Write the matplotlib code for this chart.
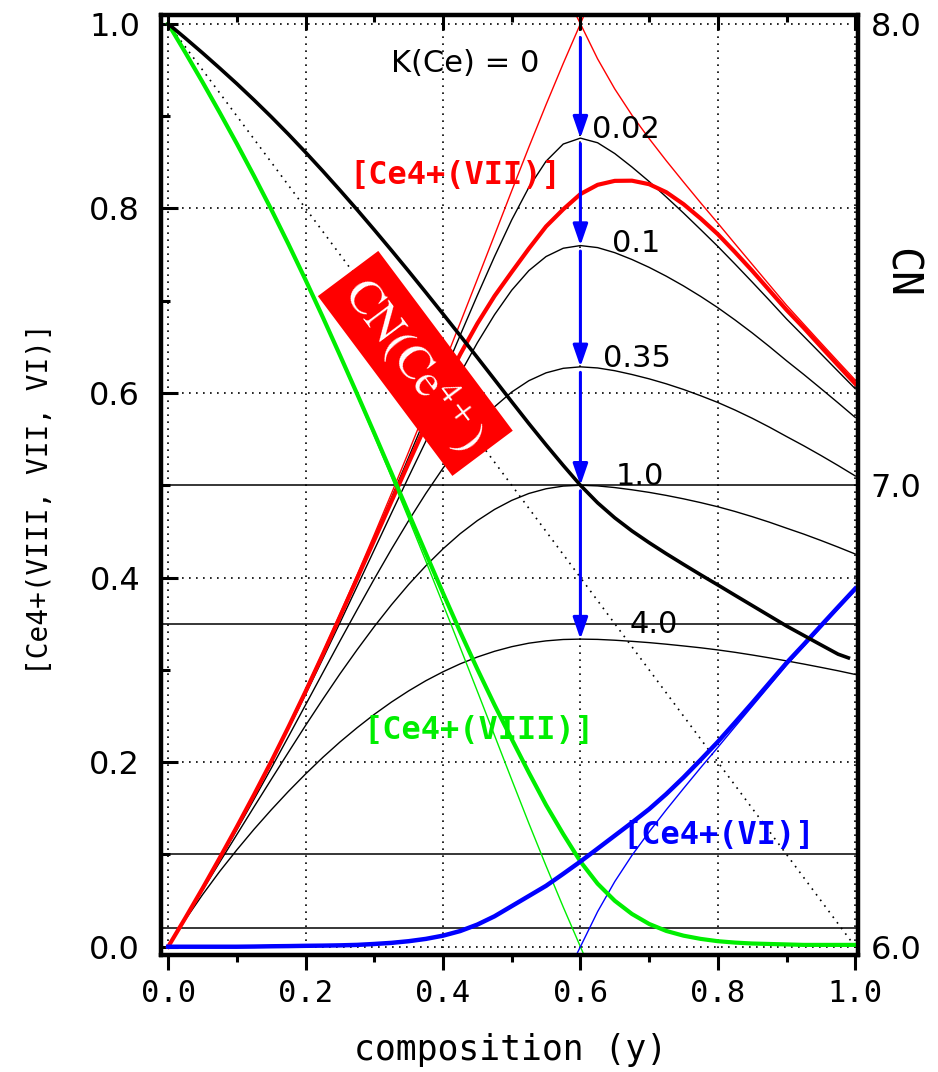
import matplotlib
matplotlib.use("Agg")
import matplotlib.pyplot as plt
from matplotlib.ticker import MultipleLocator, FixedLocator

plt.rcParams['mathtext.fontset'] = 'stix'

# ---------------- data ----------------
x_grid = [0.0, 0.025, 0.05, 0.075, 0.1, 0.125, 0.15, 0.175, 0.2, 0.225, 0.25, 0.275, 0.3,
          0.325, 0.35, 0.375, 0.4, 0.425, 0.45, 0.475, 0.5, 0.525, 0.55, 0.575, 0.6, 0.625,
          0.65, 0.675, 0.7, 0.725, 0.75, 0.775, 0.8, 0.825, 0.85, 0.875, 0.9, 0.925, 0.95,
          0.975, 1.0]

# [Ce4+(VII)] for K(Ce) = 0.02, 0.1, 0.35, 1.0, 4.0 (units of 1e-4)
k_labels = ['0.02', '0.1', '0.35', '1.0', '4.0']
vii_k002 = [0, 312, 632, 961, 1298, 1649, 2011, 2387, 2775, 3175, 3586, 4003, 4431, 4864,
            5302, 5744, 6186, 6625, 7058, 7478, 7875, 8228, 8511, 8697, 8761, 8711, 8594,
            8448, 8291, 8123, 7950, 7770, 7588, 7397, 7202, 7004, 6802, 6614, 6425, 6235, 6046]
vii_k01 = [0, 311, 630, 957, 1290, 1636, 1991, 2358, 2734, 3119, 3510, 3904, 4301, 4698,
           5091, 5477, 5852, 6210, 6544, 6848, 7113, 7326, 7478, 7568, 7597, 7575, 7520,
           7446, 7361, 7265, 7160, 7046, 6924, 6791, 6651, 6503, 6349, 6201, 6048, 5893, 5735]
vii_k035 = [0, 310, 625, 945, 1268, 1599, 1934, 2276, 2621, 2967, 3312, 3651, 3985, 4308,
            4617, 4911, 5185, 5434, 5657, 5850, 6010, 6133, 6218, 6267, 6283, 6271, 6241,
            6200, 6153, 6099, 6038, 5970, 5897, 5815, 5726, 5630, 5528, 5428, 5323, 5214, 5101]
vii_k1 = [0, 307, 612, 916, 1216, 1516, 1813, 2107, 2398, 2681, 2956, 3218, 3469, 3705,
          3925, 4127, 4311, 4475, 4617, 4738, 4836, 4911, 4962, 4991, 5000, 4993, 4975,
          4951, 4923, 4890, 4853, 4812, 4767, 4716, 4660, 4600, 4535, 4471, 4402, 4330, 4255]
vii_k4 = [0, 294, 564, 816, 1050, 1273, 1483, 1683, 1872, 2051, 2218, 2373, 2518, 2651,
          2772, 2882, 2979, 3065, 3139, 3201, 3251, 3289, 3314, 3329, 3333, 3330, 3321,
          3309, 3295, 3278, 3259, 3239, 3216, 3190, 3161, 3130, 3097, 3063, 3027, 2990, 2950]

# thick curves (units of 1e-4)
vii_thick = [0, 312, 632, 962, 1300, 1648, 2006, 2380, 2766, 3166, 3576, 3990, 4406, 4826,
             5242, 5652, 6048, 6418, 6752, 7050, 7310, 7564, 7804, 7990, 8155, 8255, 8298,
             8300, 8262, 8175, 8046, 7890, 7720, 7526, 7324, 7112, 6900, 6706, 6502, 6300, 6100]
viii_thick = [10000, 9688, 9368, 9038, 8700, 8350, 7989, 7613, 7224, 6822, 6409, 5990, 5564,
              5132, 4698, 4263, 3832, 3412, 3008, 2620, 2250, 1886, 1536, 1220, 923, 683, 498,
              355, 247, 171, 120, 85, 60, 45, 35, 30, 25, 20, 20, 20, 20]
vi_thick = [0, 0, 0, 0, 0, 2, 5, 7, 10, 12, 15, 20, 30, 42, 60, 85, 120, 170, 240, 330, 440,
            550, 660, 790, 923, 1063, 1204, 1345, 1491, 1655, 1834, 2025, 2220, 2429, 2641,
            2858, 3075, 3274, 3478, 3680, 3880]

# CN(Ce4+) on the right axis
cn_x = [0.0, 0.025, 0.05, 0.075, 0.1, 0.125, 0.15, 0.175, 0.2, 0.225, 0.25, 0.275, 0.3,
        0.325, 0.35, 0.375, 0.4, 0.425, 0.45, 0.475, 0.5, 0.525, 0.55, 0.575, 0.6, 0.625,
        0.65, 0.675, 0.7, 0.725, 0.75, 0.775, 0.8, 0.825, 0.85, 0.875, 0.9, 0.925, 0.95,
        0.975, 0.99]
cn_val = [8.0, 7.9688, 7.9368, 7.9038, 7.87, 7.8348, 7.7984, 7.7606, 7.7214, 7.681, 7.6394,
          7.597, 7.5534, 7.509, 7.4638, 7.4178, 7.3712, 7.3242, 7.2768, 7.229, 7.181, 7.1336,
          7.0876, 7.043, 7.0, 6.962, 6.9294, 6.901, 6.8756, 6.8516, 6.8286, 6.806, 6.784,
          6.7616, 6.7394, 6.7172, 6.695, 6.6746, 6.6542, 6.634, 6.626]

# K(Ce) = 0 thin coloured lines
k0_left_x = [0.0, 0.025, 0.05, 0.075, 0.1, 0.125, 0.15, 0.175, 0.2, 0.225, 0.25, 0.275, 0.3,
             0.325, 0.35, 0.375, 0.4, 0.425, 0.45, 0.475, 0.5, 0.525, 0.55, 0.575, 0.6, 0.6052]
k0_vii_left = [0, 0.0312, 0.0632, 0.0962, 0.130, 0.1652, 0.2016, 0.2394, 0.2786, 0.319,
               0.3606, 0.403, 0.4466, 0.491, 0.5362, 0.5822, 0.6288, 0.6758, 0.7232, 0.771,
               0.819, 0.8664, 0.9124, 0.957, 1.0, 1.009]
k0_viii = [1.0, 0.9688, 0.9368, 0.9038, 0.87, 0.8348, 0.7984, 0.7606, 0.7214, 0.681, 0.6394,
           0.597, 0.5534, 0.509, 0.4638, 0.4178, 0.3712, 0.3242, 0.2768, 0.229, 0.181,
           0.1336, 0.0876, 0.043, 0.0, -0.009]
k0_right_x = [0.594, 0.6, 0.625, 0.65, 0.675, 0.7, 0.725, 0.75, 0.775, 0.8, 0.825, 0.85,
              0.875, 0.9, 0.925, 0.95, 0.975, 1.0]
k0_vii_right = [1.009, 1.0, 0.962, 0.9294, 0.901, 0.8756, 0.8516, 0.8286, 0.806, 0.784,
                0.7616, 0.7394, 0.7172, 0.695, 0.6746, 0.6542, 0.634, 0.614]
k0_vi = [-0.009, 0.0, 0.038, 0.0706, 0.099, 0.1244, 0.1484, 0.1714, 0.194, 0.216, 0.2384,
         0.2606, 0.2828, 0.305, 0.3254, 0.3458, 0.366, 0.386]

h_lines = [0.5, 0.35, 0.1, 0.02]
x_ticks = [0.0, 0.2, 0.4, 0.6, 0.8, 1.0]
y_ticks = [0.0, 0.2, 0.4, 0.6, 0.8, 1.0]
cn_ticks = [6.0, 7.0, 8.0]

# ---------------- styling ----------------
RED = '#ff0000'
GREEN = '#00ee00'
BLUE = '#0000ff'
DOT = (0, (1, 3.2))
MONO = ['DejaVu Sans Mono', 'DejaVu Sans']
SC = 1e-4  # fractions above are stored in units of 1e-4

fig = plt.figure(figsize=(9.38, 10.72), dpi=100)
ax = fig.add_axes([0.1716, 0.1091, 0.7431, 0.8769])
XL = (-0.0105, 1.004)
YL = (-0.009, 1.0095)
ax.set_xlim(*XL)
ax.set_ylim(*YL)
for s in ax.spines.values():
    s.set_linewidth(3.0)

ax.xaxis.set_major_locator(FixedLocator(x_ticks))
ax.xaxis.set_minor_locator(MultipleLocator(0.1))
ax.yaxis.set_major_locator(FixedLocator(y_ticks))
ax.yaxis.set_minor_locator(MultipleLocator(0.1))
ax.set_xticklabels(['%.1f' % v for v in x_ticks], family=MONO, fontsize=22)
ax.set_yticklabels(['%.1f' % v for v in y_ticks], family='DejaVu Sans', fontsize=23)
ax.tick_params(axis='x', which='both', bottom=True, top=False, direction='out', width=2.2, pad=6)
ax.tick_params(axis='x', which='major', length=11)
ax.tick_params(axis='x', which='minor', length=5)
ax.tick_params(axis='y', which='both', left=True, right=True, direction='in', width=2.2, pad=15)
ax.tick_params(axis='y', which='major', length=12)
ax.tick_params(axis='y', which='minor', length=6.5)
ax.grid(True, which='major', color='black', linestyle=DOT, linewidth=1.2)

# top ticks (pointing inward)
axt = ax.twiny()
axt.set_xlim(*XL)
axt.xaxis.set_major_locator(FixedLocator(x_ticks))
axt.xaxis.set_minor_locator(MultipleLocator(0.1))
axt.tick_params(axis='x', which='both', top=True, bottom=False, labeltop=False,
                direction='in', width=2.2)
axt.tick_params(axis='x', which='major', length=11)
axt.tick_params(axis='x', which='minor', length=5)
for s in axt.spines.values():
    s.set_linewidth(3.0)

# right axis: CN
axr = ax.twinx()
axr.set_ylim(6.0 + 2 * YL[0], 6.0 + 2 * YL[1])
axr.yaxis.set_major_locator(FixedLocator(cn_ticks))
axr.set_yticklabels(['%.1f' % v for v in cn_ticks], family='DejaVu Sans', fontsize=23)
axr.tick_params(axis='y', which='both', length=0, pad=9)
for s in axr.spines.values():
    s.set_linewidth(3.0)

ax.plot([0, 1], [1, 0], color='black', linestyle=DOT, linewidth=1.2, zorder=2)
for h in h_lines:
    ax.axhline(h, color='black', linewidth=1.1, zorder=2)

curves = [vii_k002, vii_k01, vii_k035, vii_k1, vii_k4]
for vals in curves:
    ax.plot(x_grid, [q * SC for q in vals], color='black', linewidth=1.0, zorder=3)

ax.plot(k0_left_x, k0_vii_left, color=RED, linewidth=1.0, zorder=3)
ax.plot(k0_right_x, k0_vii_right, color=RED, linewidth=1.0, zorder=3)
ax.plot(k0_left_x, k0_viii, color=GREEN, linewidth=1.0, zorder=3)
ax.plot(k0_right_x, k0_vi, color=BLUE, linewidth=1.0, zorder=3)

ax.plot(x_grid, [q * SC for q in vii_thick], color=RED, linewidth=3.0, zorder=4)
ax.plot(x_grid, [q * SC for q in viii_thick], color=GREEN, linewidth=3.0, zorder=4)
ax.plot(x_grid, [q * SC for q in vi_thick], color=BLUE, linewidth=3.2, zorder=4)
axr.plot(cn_x, cn_val, color='black', linewidth=2.6, zorder=4)

# blue arrows stepping down the peaks at y = 0.6
i6 = x_grid.index(0.6)
tips = [c[i6] * SC for c in curves]
start = 0.985
for t in tips:
    ax.annotate('', xy=(0.6, t), xytext=(0.6, start),
                arrowprops=dict(arrowstyle='-|>,head_length=1.3,head_width=0.45',
                                mutation_scale=10, color=BLUE, lw=2.2,
                                shrinkA=0, shrinkB=0), zorder=6)
    start = t - 0.006

ax.text(0.433, 0.948, 'K(Ce) = 0', ha='center', va='baseline', fontsize=22,
        family='DejaVu Sans', zorder=7)
label_pos = [(0.617, 0.8765), (0.6455, 0.753), (0.633, 0.628), (0.652, 0.5), (0.672, 0.340)]
for lab, (lx, ly) in zip(k_labels, label_pos):
    ax.text(lx, ly, lab, ha='left', va='baseline', fontsize=22, family='DejaVu Sans', zorder=7)

ax.text(0.4177, 0.836, '[Ce4+(VII)]', color=RED, ha='center', va='center',
        fontsize=23, fontweight='bold', family=MONO, zorder=7)
ax.text(0.4526, 0.234, '[Ce4+(VIII)]', color=GREEN, ha='center', va='center',
        fontsize=23, fontweight='bold', family=MONO, zorder=7)
ax.text(0.8017, 0.121, '[Ce4+(VI)]', color=BLUE, ha='center', va='center',
        fontsize=23, fontweight='bold', family=MONO, zorder=7)

axr.text(0.3597, 0.632, r'CN(Ce$^{4+}$)', transform=ax.transData, rotation=-53.2,
         rotation_mode='anchor', ha='center', va='center', color='white', fontsize=34,
         family='STIXGeneral', zorder=8,
         bbox=dict(boxstyle='square,pad=0.25', fc=RED, ec='none'))

fig.text(511 / 938, 1 - 1050 / 1072, 'composition (y)', ha='center', va='center',
         family=MONO, fontsize=25)
fig.text(40 / 938, 1 - 499 / 1072, '[Ce4+(VIII, VII, VI)]', ha='center', va='center',
         rotation=90, family=MONO, fontsize=20)
fig.text(901 / 938, 1 - 273 / 1072, 'CN', ha='center', va='center', rotation=270,
         family=MONO, fontsize=30)

fig.savefig('out.png', dpi=100)
